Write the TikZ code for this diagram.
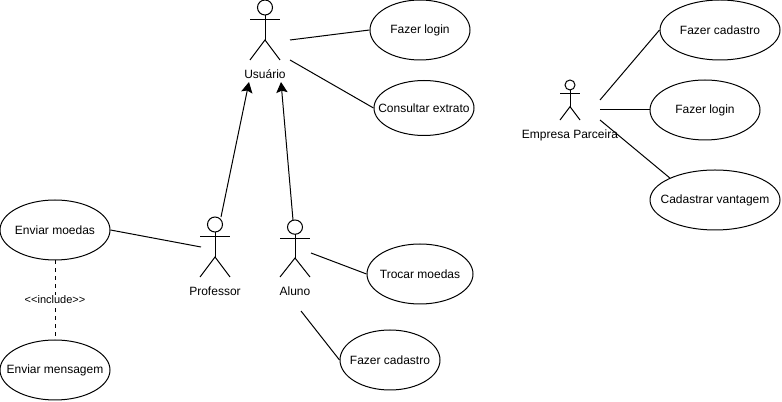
\documentclass[tikz,border=0pt]{standalone}
\usepackage{fontspec}
\setmainfont{Liberation Sans}
\usetikzlibrary{arrows.meta,shapes.geometric}

\tikzset{
    usecase/.style 2 args = {
        ellipse,
        minimum width=#1*0.75pt,
        minimum height=#2*0.75pt,
        inner xsep=-15pt,
        inner ysep=0pt,
        align=center,
        draw=black,
        line width=0.75pt,
        fill=white
    },
    actor/.style 2 args = {
        rectangle,
        minimum width=#1*0.75pt,
        minimum height=#2*0.75pt,
        inner sep=0pt
    },
    actorname/.style = {
        yshift=-3.75pt
    },
    link/.style = {
        line width=0.75pt
    },
    arrow/.style = {
        line width=0.75pt,
        -{Stealth[length=8pt,width=8.5pt,inset=1.5pt]}
    }
}

% stick figure inside an actor node: name, xscale, yscale
\newcommand{\stickfig}[3]{
    \begin{scope}[shift={(#1.center)},xscale=#2,yscale=#3,line width=0.75pt]
        \draw (0,-22.5) circle (7.5);
        \draw (-15,-10) -- (15,-10);
        \draw (0,-15) -- (0,10);
        \draw (-15,30) -- (0,10) -- (15,30);
    \end{scope}
}

\begin{document}
\begin{tikzpicture}[x=0.75pt,y=-0.75pt,every node/.style={font=\fontsize{9}{11}\selectfont}]
\useasboundingbox (0,0) rectangle (782,402);

% Actors
\node (usr) [actor={30}{60},label={[actorname]below:Usuário}] at (265,30) {};
\node (pro) [actor={30}{60},label={[actorname]below:Professor}] at (215,247) {};
\node (alu) [actor={30}{57},label={[actorname]below:Aluno}] at (295,248.5) {};
\node (emp) [actor={20}{40},label={[actorname]below:Empresa Parceira}] at (570,100) {};
\stickfig{usr}{1}{1}
\stickfig{pro}{1}{1}
\stickfig{alu}{1}{0.95}
\stickfig{emp}{0.667}{0.667}

% Use cases
\node (lgn) [usecase={100}{60}] at (420,30) {Fazer login};
\node (ext) [usecase={100}{55}] at (424,108) {Consultar extrato};
\node (env) [usecase={110}{60}] at (55,230) {Enviar moedas};
\node (msg) [usecase={110}{60}] at (55,370) {Enviar mensagem};
\node (trc) [usecase={106}{60}] at (420,274) {Trocar moedas};
\node (cad) [usecase={100}{60}] at (390,360) {Fazer cadastro};
\node (ecad) [usecase={120}{60}] at (720,30) {Fazer cadastro};
\node (elgn) [usecase={110}{60}] at (705,110) {Fazer login};
\node (vnt) [usecase={130}{60}] at (715,200) {Cadastrar vantagem};

% Free ends
\coordinate (usrA) at (290,40);
\coordinate (usrB) at (290,60);
\coordinate (usrP) at (249,82);
\coordinate (usrL) at (281,82);
\coordinate (proT) at (221,217);
\coordinate (proL) at (201,247);
\coordinate (aluT) at (293,220);
\coordinate (aluA) at (311,253);
\coordinate (aluB) at (301,311);
\coordinate (empA) at (600,100);
\coordinate (empB) at (600,110);
\coordinate (empC) at (600,120);

% Connectors
\draw [link] (usrA) -- (lgn.west);
\draw [link] (usrB) -- (ext.west);
\draw [link] (proL) -- (env.east);
\draw [link] (aluA) -- (trc.west);
\draw [link] (aluB) -- (cad.west);
\draw [link] (empA) -- (ecad.west);
\draw [link] (empB) -- (elgn.west);
\draw [link] (empC) -- (vnt.154);
\draw [link,dashed] (env.south) -- node [fill=white,inner sep=1pt,font=\fontsize{8.25}{10}\selectfont] {<{}<include>{}>} (msg.north);

% Arrows
\draw [arrow] (proT) -- (usrP);
\draw [arrow] (aluT) -- (usrL);

\end{tikzpicture}
\end{document}
